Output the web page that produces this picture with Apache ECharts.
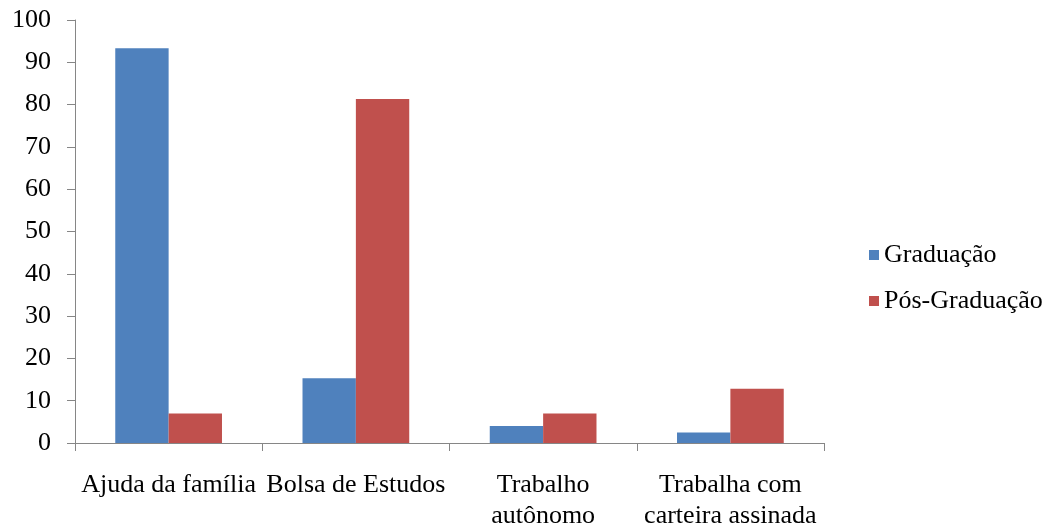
<!DOCTYPE html>
<html>
<head>
<meta charset="utf-8">
<script src="https://cdn.jsdelivr.net/npm/echarts@6/dist/echarts.min.js"></script>
<style>
  html, body { margin: 0; padding: 0; background: #fff; }
  #chart { width: 1054px; height: 524px; }
</style>
</head>
<body>
<div id="chart"></div>
<script>
// Fonte de renda dos estudantes (%)
const categories = [
  'Ajuda da família',
  'Bolsa de Estudos',
  'Trabalho\nautônomo',
  'Trabalha com\ncarteira assinada'
];
const graduacao = [93.3, 15.3, 4.0, 2.5];
const posGraduacao = [7.0, 81.3, 7.0, 12.8];
const seriesNames = ['Graduação', 'Pós-Graduação'];

const serif = '"Liberation Serif", "DejaVu Serif", serif';
const axisGray = '#868686';

const chart = echarts.init(document.getElementById('chart'), null, { renderer: 'canvas' });
chart.setOption({
  animation: false,
  backgroundColor: '#ffffff',
  grid: {
    left: 75, right: 230, top: 20, bottom: 81,
    containLabel: false,
    outerBoundsMode: 'none'
  },
  legend: {
    orient: 'vertical',
    left: 864,
    top: 237,
    itemWidth: 10,
    itemHeight: 10,
    itemGap: 20,
    icon: 'rect',
    textStyle: { fontFamily: serif, fontSize: 26, color: '#000' },
    data: seriesNames
  },
  xAxis: {
    type: 'category',
    data: categories,
    boundaryGap: true,
    axisLine: { lineStyle: { color: axisGray, width: 1 } },
    axisTick: { show: true, alignWithLabel: false, length: 8, lineStyle: { color: axisGray } },
    axisLabel: {
      interval: 0,
      hideOverlap: false,
      margin: 27,
      fontFamily: serif,
      fontSize: 26,
      lineHeight: 31,
      color: '#000'
    },
    splitLine: { show: false }
  },
  yAxis: {
    type: 'value',
    min: 0,
    max: 100,
    interval: 10,
    axisLine: { show: true, lineStyle: { color: axisGray, width: 1 } },
    axisTick: { show: true, inside: false, length: 8, lineStyle: { color: axisGray } },
    axisLabel: { margin: 24, fontFamily: serif, fontSize: 26, color: '#000' },
    splitLine: { show: false }
  },
  series: [
    {
      name: seriesNames[0],
      type: 'bar',
      data: graduacao,
      barGap: '0%',
      barCategoryGap: '43%',
      itemStyle: { color: '#4F81BD' }
    },
    {
      name: seriesNames[1],
      type: 'bar',
      data: posGraduacao,
      barGap: '0%',
      barCategoryGap: '43%',
      itemStyle: { color: '#C0504D' }
    }
  ]
});
</script>
</body>
</html>
